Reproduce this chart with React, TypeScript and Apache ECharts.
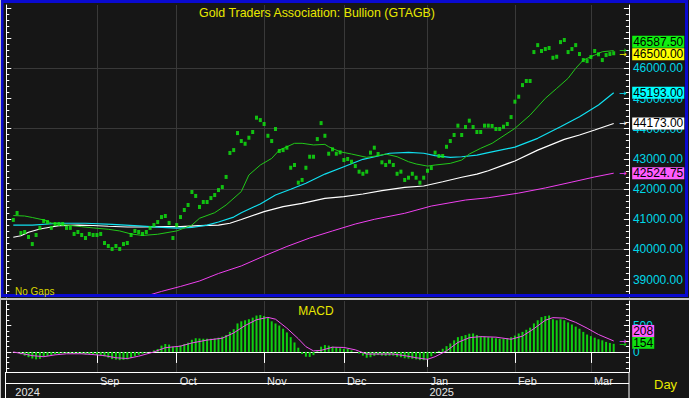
import React, { useEffect, useRef } from "react";
import * as echarts from "echarts";

// ---------- categories (weekday dates) ----------
const FIRST_DAY = "2024-08-01";
const N_CATEGORIES = 163;
const makeWeekdays = (start: string, n: number): string[] => {
  const out: string[] = [];
  const d = new Date(start + "T00:00:00Z");
  while (out.length < n) {
    const wd = d.getUTCDay();
    if (wd !== 0 && wd !== 6) out.push(d.toISOString().slice(0, 10));
    d.setUTCDate(d.getUTCDate() + 1);
  }
  return out;
};
const dates = makeWeekdays(FIRST_DAY, N_CATEGORIES);
const MONTHS = ["Jan", "Feb", "Mar", "Apr", "May", "Jun", "Jul", "Aug", "Sep", "Oct", "Nov", "Dec"];

// ---------- daily closes (dots) ----------
const closes = [
  40975, 41205, 40540, 40575, 40410, 40175, 40475, 40710, 40940, 40905,
  40710, 40840, 40840, 40840, 40710, 40710, 40510, 40575, 40475, 40375,
  40510, 40475, 40475, 40510, 40210, 40110, 40010, 40110, 40010, 40175,
  40210, 40475, 40610, 40575, 40510, 40575, 40710, 40805, 40905, 41070,
  41105, 40875, 40375, 40805, 41070, 41305, 41470, 41900, 41770, 41405,
  41570, 41570, 41700, 41800, 41965, 42065, 42400, 43195, 43290, 43855,
  43590, 43500, 43700, 43890, 44365, 44285, 44155, 43765, 43590, 43990,
  43260, 43290, 43370, 42705, 42795, 42210, 42300, 42705, 43070, 43070,
  43655, 44185, 43765, 43170, 43315, 43170, 43215, 42960, 42995, 42905,
  42760, 42575, 42505, 42575, 43205, 43370, 43160, 42885, 42795, 42905,
  42795, 42505, 42575, 42300, 42375, 42505, 42375, 42210, 42375, 42605,
  42695, 43205, 43095, 43095, 43400, 43590, 43790, 44100, 43790, 44055,
  44265, 44055, 43890, 43890, 44100, 44100, 44090, 43990, 43990, 44065,
  44155, 44385, 44895, 45060, 45445, 45580, 45580, 46540, 46770, 46575,
  46640, 46675, 46350, 46385, 46870, 46940, 46540, 46640, 46770, 46475,
  46275, 46240, 46375, 46575, 46465, 46275, 46440, 46475, 46500,
];

// ---------- moving averages, read at sample days: [dayIndex, value] ----------
const maGreen: [number, number][] = [
  [0, 41120], [3, 41105], [5, 41055], [8, 40975], [10, 40875], [14, 40805], [18, 40750],
  [21, 40710], [25, 40665], [28, 40610], [31, 40510], [34, 40460], [38, 40500], [43, 40610],
  [47, 40805], [49, 41030], [53, 41215], [56, 41470], [60, 41915], [62, 42465], [65, 42795],
  [68, 43015], [70, 43290], [72, 43400], [74, 43515], [76, 43515], [79, 43460], [82, 43480],
  [83, 43400], [86, 43235], [89, 43160], [93, 43050], [96, 43105], [98, 43160], [101, 43070],
  [104, 42905], [106, 42830], [109, 42760], [111, 42795], [115, 42850], [118, 42960],
  [120, 43160], [123, 43350], [126, 43515], [132, 44010], [136, 44450], [140, 45005],
  [143, 45335], [146, 45670], [148, 46000], [150, 46275], [153, 46440], [155, 46550], [158, 46587.5],
];
const maCyan: [number, number][] = [
  [0, 40805], [5, 40805], [12, 40865], [19, 40865], [26, 40830], [33, 40775], [38, 40735],
  [43, 40700], [47, 40725], [51, 40805], [54, 40905], [58, 41070], [60, 41215], [65, 41505],
  [69, 41800], [73, 41990], [77, 42190], [82, 42495], [87, 42740], [92, 42985], [96, 43095],
  [99, 43185], [104, 43215], [108, 43185], [111, 43105], [115, 43050], [118, 43070],
  [122, 43125], [125, 43205], [132, 43390], [138, 43680], [144, 44065], [149, 44395],
  [154, 44785], [158, 45193],
];
const maWhite: [number, number][] = [
  [0, 40400], [2, 40450], [4, 40565], [7, 40675], [10, 40740], [12, 40785], [17, 40805],
  [21, 40790], [25, 40765], [30, 40740], [34, 40740], [40, 40750], [44, 40755], [49, 40785],
  [54, 40805], [57, 40865], [60, 40990], [66, 41250], [71, 41415], [76, 41525], [82, 41690],
  [87, 41745], [92, 41835], [97, 41945], [103, 42055], [108, 42100], [113, 42240],
  [118, 42390], [122, 42495], [125, 42605], [132, 42930], [138, 43290], [145, 43645],
  [149, 43790], [153, 43955], [158, 44173],
];
const maMagenta: [number, number][] = [
  [35, 38455], [39, 38605], [44, 38770], [49, 38950], [54, 39200], [60, 39450], [66, 39780],
  [72, 40095], [78, 40375], [84, 40610], [90, 40840], [95, 40995], [103, 41195], [110, 41435],
  [119, 41635], [125, 41710], [133, 41865], [140, 42035], [147, 42230], [153, 42400],
  [158, 42524.75],
];

// ---------- MACD ----------
const macd = [
  0, -20, -45, -70, -100, -125, -140, -130, -95, -75,
  -60, -45, -35, -25, -25, -30, -35, -30, -40, -45,
  -45, -50, -55, -60, -85, -110, -135, -145, -155, -150,
  -140, -115, -80, -55, -35, -15, 5, 30, 55, 120,
  150, 140, 100, 105, 125, 150, 175, 230, 260, 255,
  250, 250, 250, 255, 270, 290, 320, 380, 430, 540,
  580, 600, 620, 650, 690, 700, 680, 650, 580, 540,
  500, 440, 370, 280, 180, 80, -40, -90, -95, -60,
  20, 100, 130, 120, 100, 85, 70, 60, 55, 30,
  0, -30, -70, -110, -100, -75, -60, -70, -75, -70,
  -70, -90, -100, -120, -125, -130, -140, -155, -155, -130,
  -80, -30, 20, 60, 110, 160, 220, 280, 300, 320,
  345, 350, 320, 295, 290, 280, 275, 260, 250, 250,
  260, 280, 310, 350, 380, 420, 460, 540, 600, 660,
  680, 690, 620, 600, 620, 600, 560, 520, 480, 440,
  380, 330, 300, 270, 240, 220, 190, 170, 154,
];
const macdSignal: [number, number][] = [
  [0, 0], [5, -70], [8, -90], [11, -55], [14, -35], [18, -35], [21, -50], [24, -70], [27, -110],
  [30, -125], [33, -80], [37, 0], [40, 80], [44, 110], [47, 170], [51, 225], [55, 260],
  [58, 360], [61, 500], [64, 610], [67, 655], [69, 620], [72, 450], [75, 250], [77, 100],
  [79, 20], [81, 30], [84, 90], [87, 85], [90, 40], [93, -40], [96, -40], [100, -40],
  [103, -70], [106, -110], [109, -140], [111, -90], [114, 20], [117, 180], [120, 270],
  [123, 290], [127, 280], [131, 240], [134, 300], [137, 440], [140, 600], [142, 650],
  [145, 640], [148, 560], [151, 450], [154, 330], [158, 208],
];

// ---------- axis tick values ----------
const priceLabels = [39000, 40000, 41000, 42000, 43000, 44000, 45000, 46000];
const priceGrid = [40000, 42000, 44000, 46000];
const macdLabels = [0, 500];

const FONT = "'Liberation Sans', Arial, sans-serif";
const BG = "#161616";
const GRIDC = "#393939";
const AXIS_TXT = "#00d8e8";
const P_MIN = 38420;
const P_MAX = 48100;
const M_MIN = -380;
const M_MAX = 965;
const GL = 13.3;
const GR = 60.1;

const steps = (a: number, b: number, s: number) => {
  const r: number[] = [];
  for (let v = a; v <= b + 1e-9; v += s) r.push(v);
  return r;
};
const isMonthStart = (i: number) =>
  i > 0 && i < dates.length && dates[i].slice(5, 7) !== dates[i - 1].slice(5, 7);
const isYearStart = (i: number) =>
  i > 0 && i < dates.length && dates[i].slice(0, 4) !== dates[i - 1].slice(0, 4);

const last = closes.length - 1;
const lastDate = dates[last];

const transparent = { color: "rgba(0,0,0,0)" };
const arrowPt = (value: number, color: string, dy = 0) => ({
  coord: [lastDate, value],
  symbol: "rect",
  symbolSize: 1,
  itemStyle: transparent,
  label: {
    show: true,
    position: "right",
    distance: 5,
    offset: [0, dy],
    formatter: "\u2192",
    color,
    fontSize: 9,
    fontFamily: "'DejaVu Sans', sans-serif",
  },
});
const boxPt = (value: number, text: string, bg: string, dy: number) => ({
  coord: [lastDate, value],
  symbol: "rect",
  symbolSize: 1,
  itemStyle: transparent,
  label: {
    show: true,
    position: "right",
    distance: 18,
    offset: [0, dy],
    formatter: text,
    backgroundColor: bg,
    color: "#000",
    fontSize: 12,
    fontFamily: FONT,
    padding: [1, 1, 0, 1],
    lineHeight: 11,
  },
});

const maSeries = (
  name: string,
  data: [number, number][],
  color: string,
  width: number,
  boxBg: string,
  boxDy: number,
  z: number
) => {
  const v = data[data.length - 1][1];
  return {
    name,
    type: "line",
    xAxisIndex: 0,
    yAxisIndex: 0,
    data,
    showSymbol: false,
    symbol: "none",
    lineStyle: { color, width },
    z,
    markPoint: {
      silent: true,
      data: [arrowPt(v, color, name === "MA green" ? -1 : 0), boxPt(v, v.toFixed(2), boxBg, boxDy)],
    },
  };
};

const valueAxisBase = {
  type: "value",
  splitLine: { show: false },
  axisLabel: { show: false },
  axisTick: { show: false },
  axisLine: { show: false },
};

const buildOption = () => ({
  animation: false,
  backgroundColor: BG,
  grid: [
    { left: GL, right: GR, top: 5, bottom: 101 },
    { left: GL, right: GR, top: 301, bottom: 26 },
  ],
  xAxis: [
    {
      type: "category",
      gridIndex: 0,
      data: dates,
      boundaryGap: false,
      axisLine: { show: false },
      axisTick: { show: false },
      axisLabel: { show: false },
      splitLine: {
        show: true,
        interval: (i: number) => isMonthStart(i),
        lineStyle: { color: GRIDC, width: 1 },
      },
    },
    {
      type: "category",
      gridIndex: 1,
      data: dates,
      boundaryGap: false,
      axisLine: { show: true, lineStyle: { color: "#ffffff", width: 1 } },
      axisTick: {
        show: true,
        interval: (i: number) => isMonthStart(i),
        length: 11,
        lineStyle: { color: "#ffffff", width: 1 },
      },
      axisLabel: {
        show: true,
        interval: (i: number) => isMonthStart(i),
        formatter: (v: string) => MONTHS[parseInt(v.slice(5, 7), 10) - 1],
        color: "#e6e6e6",
        fontSize: 11,
        fontFamily: FONT,
        align: "left",
        padding: [0, 0, 0, 3],
        margin: 3,
      },
      splitLine: {
        show: true,
        interval: (i: number) => isMonthStart(i),
        lineStyle: { color: GRIDC, width: 1 },
      },
    },
    {
      type: "category",
      gridIndex: 1,
      data: dates,
      boundaryGap: false,
      position: "bottom",
      offset: 11,
      axisLine: { show: true, lineStyle: { color: "#ffffff", width: 1 } },
      axisTick: {
        show: true,
        interval: (i: number) => isYearStart(i),
        length: 15,
        lineStyle: { color: "#ffffff", width: 1 },
      },
      axisLabel: {
        show: true,
        interval: (i: number) => i === 0 || isYearStart(i),
        formatter: (v: string) => v.slice(0, 4),
        color: "#e6e6e6",
        fontSize: 11,
        fontFamily: FONT,
        align: "left",
        padding: [0, 0, 0, 2],
        margin: 3,
      },
      splitLine: { show: false },
    },
  ],
  yAxis: [
    // 0: price, right, labels + major ticks
    {
      ...valueAxisBase,
      gridIndex: 0,
      position: "right",
      min: P_MIN,
      max: P_MAX,
      axisLine: { show: true, lineStyle: { color: "#ffffff", width: 1 } },
      axisTick: {
        show: true,
        inside: true,
        length: 5,
        customValues: steps(39000, 48000, 1000),
        lineStyle: { color: "#ffffff" },
      },
      axisLabel: {
        show: true,
        customValues: priceLabels,
        formatter: (v: number) => v.toFixed(2),
        color: AXIS_TXT,
        fontSize: 12,
        fontFamily: FONT,
        margin: 4,
      },
    },
    // 1: price, right, minor ticks
    {
      ...valueAxisBase,
      gridIndex: 0,
      position: "right",
      min: P_MIN,
      max: P_MAX,
      axisTick: {
        show: true,
        inside: true,
        length: 3,
        customValues: steps(38600, 48000, 200),
        lineStyle: { color: "#ffffff" },
      },
    },
    // 2: price, left, major
    {
      ...valueAxisBase,
      gridIndex: 0,
      position: "left",
      offset: 7,
      min: P_MIN,
      max: P_MAX,
      axisLine: { show: true, lineStyle: { color: "#ffffff", width: 1 } },
      axisTick: {
        show: true,
        inside: true,
        length: 5,
        customValues: steps(39000, 48000, 1000),
        lineStyle: { color: "#ffffff" },
      },
    },
    // 3: price, left, minor
    {
      ...valueAxisBase,
      gridIndex: 0,
      position: "left",
      offset: 7,
      min: P_MIN,
      max: P_MAX,
      axisTick: {
        show: true,
        inside: true,
        length: 3,
        customValues: steps(38600, 48000, 200),
        lineStyle: { color: "#ffffff" },
      },
    },
    // 4: price grid lines
    {
      ...valueAxisBase,
      gridIndex: 0,
      position: "left",
      min: P_MIN,
      max: P_MAX,
      axisTick: { show: false, customValues: priceGrid },
      splitLine: { show: true, lineStyle: { color: GRIDC, width: 1 } },
    },
    // 5: macd right major + labels
    {
      ...valueAxisBase,
      gridIndex: 1,
      position: "right",
      min: M_MIN,
      max: M_MAX,
      axisLine: { show: true, lineStyle: { color: "#ffffff", width: 1 } },
      axisTick: {
        show: true,
        inside: true,
        length: 5,
        customValues: macdLabels,
        lineStyle: { color: "#ffffff" },
      },
      axisLabel: {
        show: true,
        customValues: macdLabels,
        color: AXIS_TXT,
        fontSize: 12,
        fontFamily: FONT,
        margin: 4,
      },
    },
    // 6: macd right minor
    {
      ...valueAxisBase,
      gridIndex: 1,
      position: "right",
      min: M_MIN,
      max: M_MAX,
      axisTick: {
        show: true,
        inside: true,
        length: 3,
        customValues: steps(-300, 900, 100),
        lineStyle: { color: "#ffffff" },
      },
    },
    // 7: macd left major
    {
      ...valueAxisBase,
      gridIndex: 1,
      position: "left",
      offset: 7,
      min: M_MIN,
      max: M_MAX,
      axisLine: { show: true, lineStyle: { color: "#ffffff", width: 1 } },
      axisTick: {
        show: true,
        inside: true,
        length: 5,
        customValues: macdLabels,
        lineStyle: { color: "#ffffff" },
      },
    },
    // 8: macd left minor
    {
      ...valueAxisBase,
      gridIndex: 1,
      position: "left",
      offset: 7,
      min: M_MIN,
      max: M_MAX,
      axisTick: {
        show: true,
        inside: true,
        length: 3,
        customValues: steps(-300, 900, 100),
        lineStyle: { color: "#ffffff" },
      },
    },
  ],
  series: [
    maSeries("MA magenta", maMagenta, "#f040f0", 1, "#ff5cff", 0, 2),
    maSeries("MA white", maWhite, "#ffffff", 1.2, "#ffffff", 0, 2),
    maSeries("MA cyan", maCyan, "#10e0f0", 1.2, "#00ffff", 0, 2),
    maSeries("MA green", maGreen, "#22c81a", 1, "#10f010", -9, 3),
    {
      name: "Close",
      type: "scatter",
      xAxisIndex: 0,
      yAxisIndex: 0,
      data: closes,
      symbol: "rect",
      symbolSize: [3, 4],
      itemStyle: { color: "#10ec10" },
      z: 4,
      markPoint: {
        silent: true,
        data: [
          arrowPt(closes[last], "#f0f000", 1),
          boxPt(closes[last], closes[last].toFixed(2), "#ffff00", 1),
        ],
      },
    },
    {
      name: "MACD",
      type: "bar",
      xAxisIndex: 1,
      yAxisIndex: 5,
      data: macd,
      barWidth: 2,
      itemStyle: { color: "#10d010" },
      z: 2,
      markPoint: {
        silent: true,
        data: [
          arrowPt(macd[last], "#10d010"),
          boxPt(macd[last], String(macd[last]), "#10e010", -1),
        ],
      },
    },
    {
      name: "Signal",
      type: "line",
      xAxisIndex: 1,
      yAxisIndex: 5,
      data: macdSignal,
      showSymbol: false,
      symbol: "none",
      lineStyle: { color: "#f050f0", width: 1 },
      z: 3,
      markPoint: {
        silent: true,
        data: [
          arrowPt(macdSignal[macdSignal.length - 1][1], "#f050f0"),
          boxPt(
            macdSignal[macdSignal.length - 1][1],
            String(macdSignal[macdSignal.length - 1][1]),
            "#ff5cff",
            -10
          ),
        ],
      },
    },
  ],
  graphic: [
    {
      type: "rect",
      z: 100,
      silent: true,
      shape: { x: 2, y: 1.5, width: 684.5, height: 294 },
      style: { fill: "none", stroke: "#0a0ad0", lineWidth: 3 },
    },
    {
      type: "line",
      z: 100,
      silent: true,
      shape: { x1: 0, y1: 299, x2: 689, y2: 299 },
      style: { stroke: "#c4c4c4", lineWidth: 2 },
    },
    {
      type: "line",
      z: 100,
      silent: true,
      shape: { x1: 0.5, y1: 0, x2: 0.5, y2: 398 },
      style: { stroke: "#c4c4c4", lineWidth: 1 },
    },
    {
      type: "line",
      z: 100,
      silent: true,
      shape: { x1: 5.5, y1: 372, x2: 5.5, y2: 398 },
      style: { stroke: "#ffffff", lineWidth: 1 },
    },
    {
      type: "line",
      z: 100,
      silent: true,
      shape: { x1: 629, y1: 372, x2: 629, y2: 398 },
      style: { stroke: "#ffffff", lineWidth: 1 },
    },
    {
      type: "line",
      z: 100,
      silent: true,
      shape: { x1: 5.5, y1: 372.5, x2: 629, y2: 372.5 },
      style: { stroke: "#ffffff", lineWidth: 1 },
    },
    {
      type: "line",
      z: 100,
      silent: true,
      shape: { x1: 5.5, y1: 383.5, x2: 629, y2: 383.5 },
      style: { stroke: "#ffffff", lineWidth: 1 },
    },
    {
      type: "text",
      z: 100,
      silent: true,
      x: 317,
      y: 13,
      style: {
        text: "Gold Traders Association: Bullion (GTAGB)",
        fill: "#e8e800",
        fontSize: 12.4,
        fontFamily: FONT,
        align: "center",
        verticalAlign: "middle",
      },
    },
    {
      type: "text",
      z: 100,
      silent: true,
      x: 15,
      y: 291,
      style: {
        text: "No Gaps",
        fill: "#d8d800",
        fontSize: 10,
        fontFamily: FONT,
        align: "left",
        verticalAlign: "middle",
      },
    },
    {
      type: "text",
      z: 100,
      silent: true,
      x: 316,
      y: 311,
      style: {
        text: "MACD",
        fill: "#e8e800",
        fontSize: 12,
        fontFamily: FONT,
        align: "center",
        verticalAlign: "middle",
      },
    },
    {
      type: "text",
      z: 100,
      silent: true,
      x: 654,
      y: 384,
      style: {
        text: "Day",
        fill: "#e8e800",
        fontSize: 13,
        fontFamily: FONT,
        align: "left",
        verticalAlign: "middle",
      },
    },
  ],
});

export default function App() {
  const ref = useRef<HTMLDivElement>(null);
  useEffect(() => {
    if (!ref.current) return;
    const chart = echarts.init(ref.current, null, { renderer: "svg" });
    chart.setOption(buildOption() as any);
    return () => chart.dispose();
  }, []);
  return (
    <div
      ref={ref}
      style={{ position: "fixed", left: 0, top: 0, width: 689, height: 398 }}
    />
  );
}
